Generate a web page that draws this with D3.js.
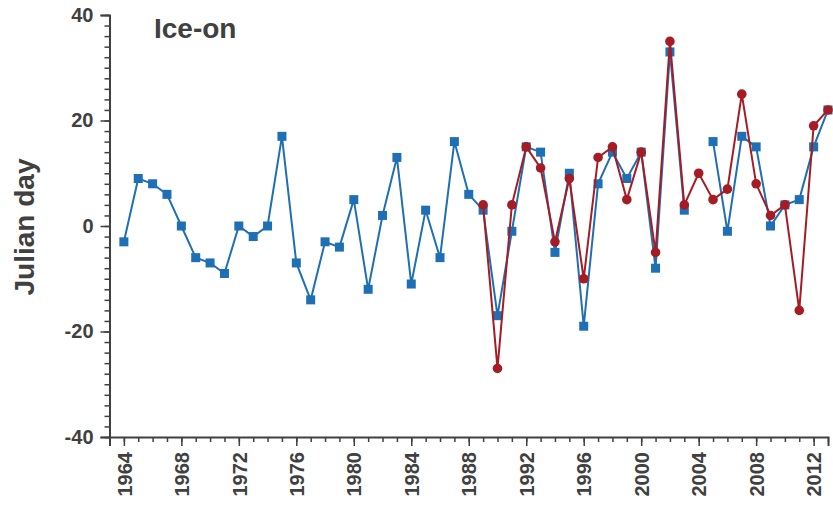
<!DOCTYPE html>
<html>
<head>
<meta charset="utf-8">
<script src="https://cdn.jsdelivr.net/npm/d3@7"></script>
<style>
  html, body { margin: 0; padding: 0; background: #fff; }
  svg { display: block; font-family: "Liberation Sans", Arial, sans-serif; }
</style>
</head>
<body>
<svg id="chart" width="833" height="506"></svg>
<script>
// Ice-on dates, Julian day anomaly
const yearsA = d3.range(1964, 2014);
const seriesA = [
  -3, 9, 8, 6, 0, -6, -7, -9, 0, -2,
  0, 17, -7, -14, -3, -4, 5, -12, 2, 13,
  -11, 3, -6, 16, 6, 3, -17, -1, 15, 14,
  -5, 10, -19, 8, 14, 9, 14, -8, 33, 3,
  null, 16, -1, 17, 15, 0, 4, 5, 15, 22
];
const yearsB = d3.range(1989, 2014);
const seriesB = [
  4, -27, 4, 15, 11, -3, 9, -10, 13, 15,
  5, 14, -5, 35, 4, 10, 5, 7, 25, 8,
  2, 4, -16, 19, 22
];
const xTickYears = d3.range(1964, 2014, 4);
const yTickValues = [-40, -20, 0, 20, 40];
const titleText = "Ice-on";
const yLabelText = "Julian day";

const axisColor = "#404040";
const blue = "#1f6fb4";
const red = "#a51c24";

const svg = d3.select("#chart");
const x = d3.scaleLinear().domain([1963, 2013]).range([109.5, 828]);
const y = d3.scaleLinear().domain([-40, 40]).range([437, 15]);

const dataA = yearsA.map((yr, i) => ({ yr, v: seriesA[i] }));
const dataB = yearsB.map((yr, i) => ({ yr, v: seriesB[i] }));

// Axes (plain hyphen for negative numbers)
const yFmt = d => String(d);
const yMinor = svg.append("g").attr("transform", "translate(109.5,0)")
  .call(d3.axisLeft(y).tickValues(d3.range(-40, 41, 2)).tickSize(5).tickFormat(""));
const yMajor = svg.append("g").attr("transform", "translate(109.5,0)")
  .call(d3.axisLeft(y).tickValues(yTickValues).tickSize(9).tickPadding(7).tickFormat(yFmt));
const xMinor = svg.append("g").attr("transform", "translate(0,437)")
  .call(d3.axisBottom(x).tickValues(d3.range(1963, 2014, 1)).tickSize(5).tickFormat(""));
const xMajor = svg.append("g").attr("transform", "translate(0,437)")
  .call(d3.axisBottom(x).tickValues(xTickYears).tickSize(9).tickFormat(d => String(d)));

[yMinor, yMajor, xMinor, xMajor].forEach(g => {
  g.selectAll(".domain").attr("stroke", axisColor).attr("stroke-width", 2);
  g.selectAll(".tick line").attr("stroke", axisColor).attr("stroke-width", 1.5);
  g.selectAll("text").attr("fill", axisColor).attr("font-size", 20).attr("font-weight", "bold")
    .attr("font-family", "'Liberation Sans', Arial, sans-serif");
});
xMinor.select(".domain").remove();
yMinor.select(".domain").remove();

xMajor.selectAll(".tick text")
  .attr("transform", "rotate(-90)")
  .attr("text-anchor", "end")
  .attr("x", -15)
  .attr("y", 0)
  .attr("dy", "0.36em");

// Lines
const line = d3.line()
  .defined(d => d.v !== null)
  .x(d => x(d.yr))
  .y(d => y(d.v));

svg.append("path").datum(dataA)
  .attr("fill", "none").attr("stroke", blue).attr("stroke-width", 2)
  .attr("d", line);

svg.append("g").selectAll("rect")
  .data(dataA.filter(d => d.v !== null))
  .join("rect")
  .attr("x", d => x(d.yr) - 4.5)
  .attr("y", d => y(d.v) - 4.5)
  .attr("width", 9).attr("height", 9)
  .attr("fill", blue);

svg.append("path").datum(dataB)
  .attr("fill", "none").attr("stroke", red).attr("stroke-width", 2)
  .attr("d", line);

svg.append("g").selectAll("circle")
  .data(dataB)
  .join("circle")
  .attr("cx", d => x(d.yr))
  .attr("cy", d => y(d.v))
  .attr("r", 4.8)
  .attr("fill", red);

// Title and axis label
svg.append("text")
  .attr("x", 154).attr("y", 38)
  .attr("font-size", 28).attr("font-weight", "bold").attr("fill", axisColor)
  .text(titleText);

svg.append("text")
  .attr("transform", "translate(34,227) rotate(-90)")
  .attr("text-anchor", "middle")
  .attr("font-size", 28).attr("font-weight", "bold").attr("fill", axisColor)
  .text(yLabelText);
</script>
</body>
</html>
